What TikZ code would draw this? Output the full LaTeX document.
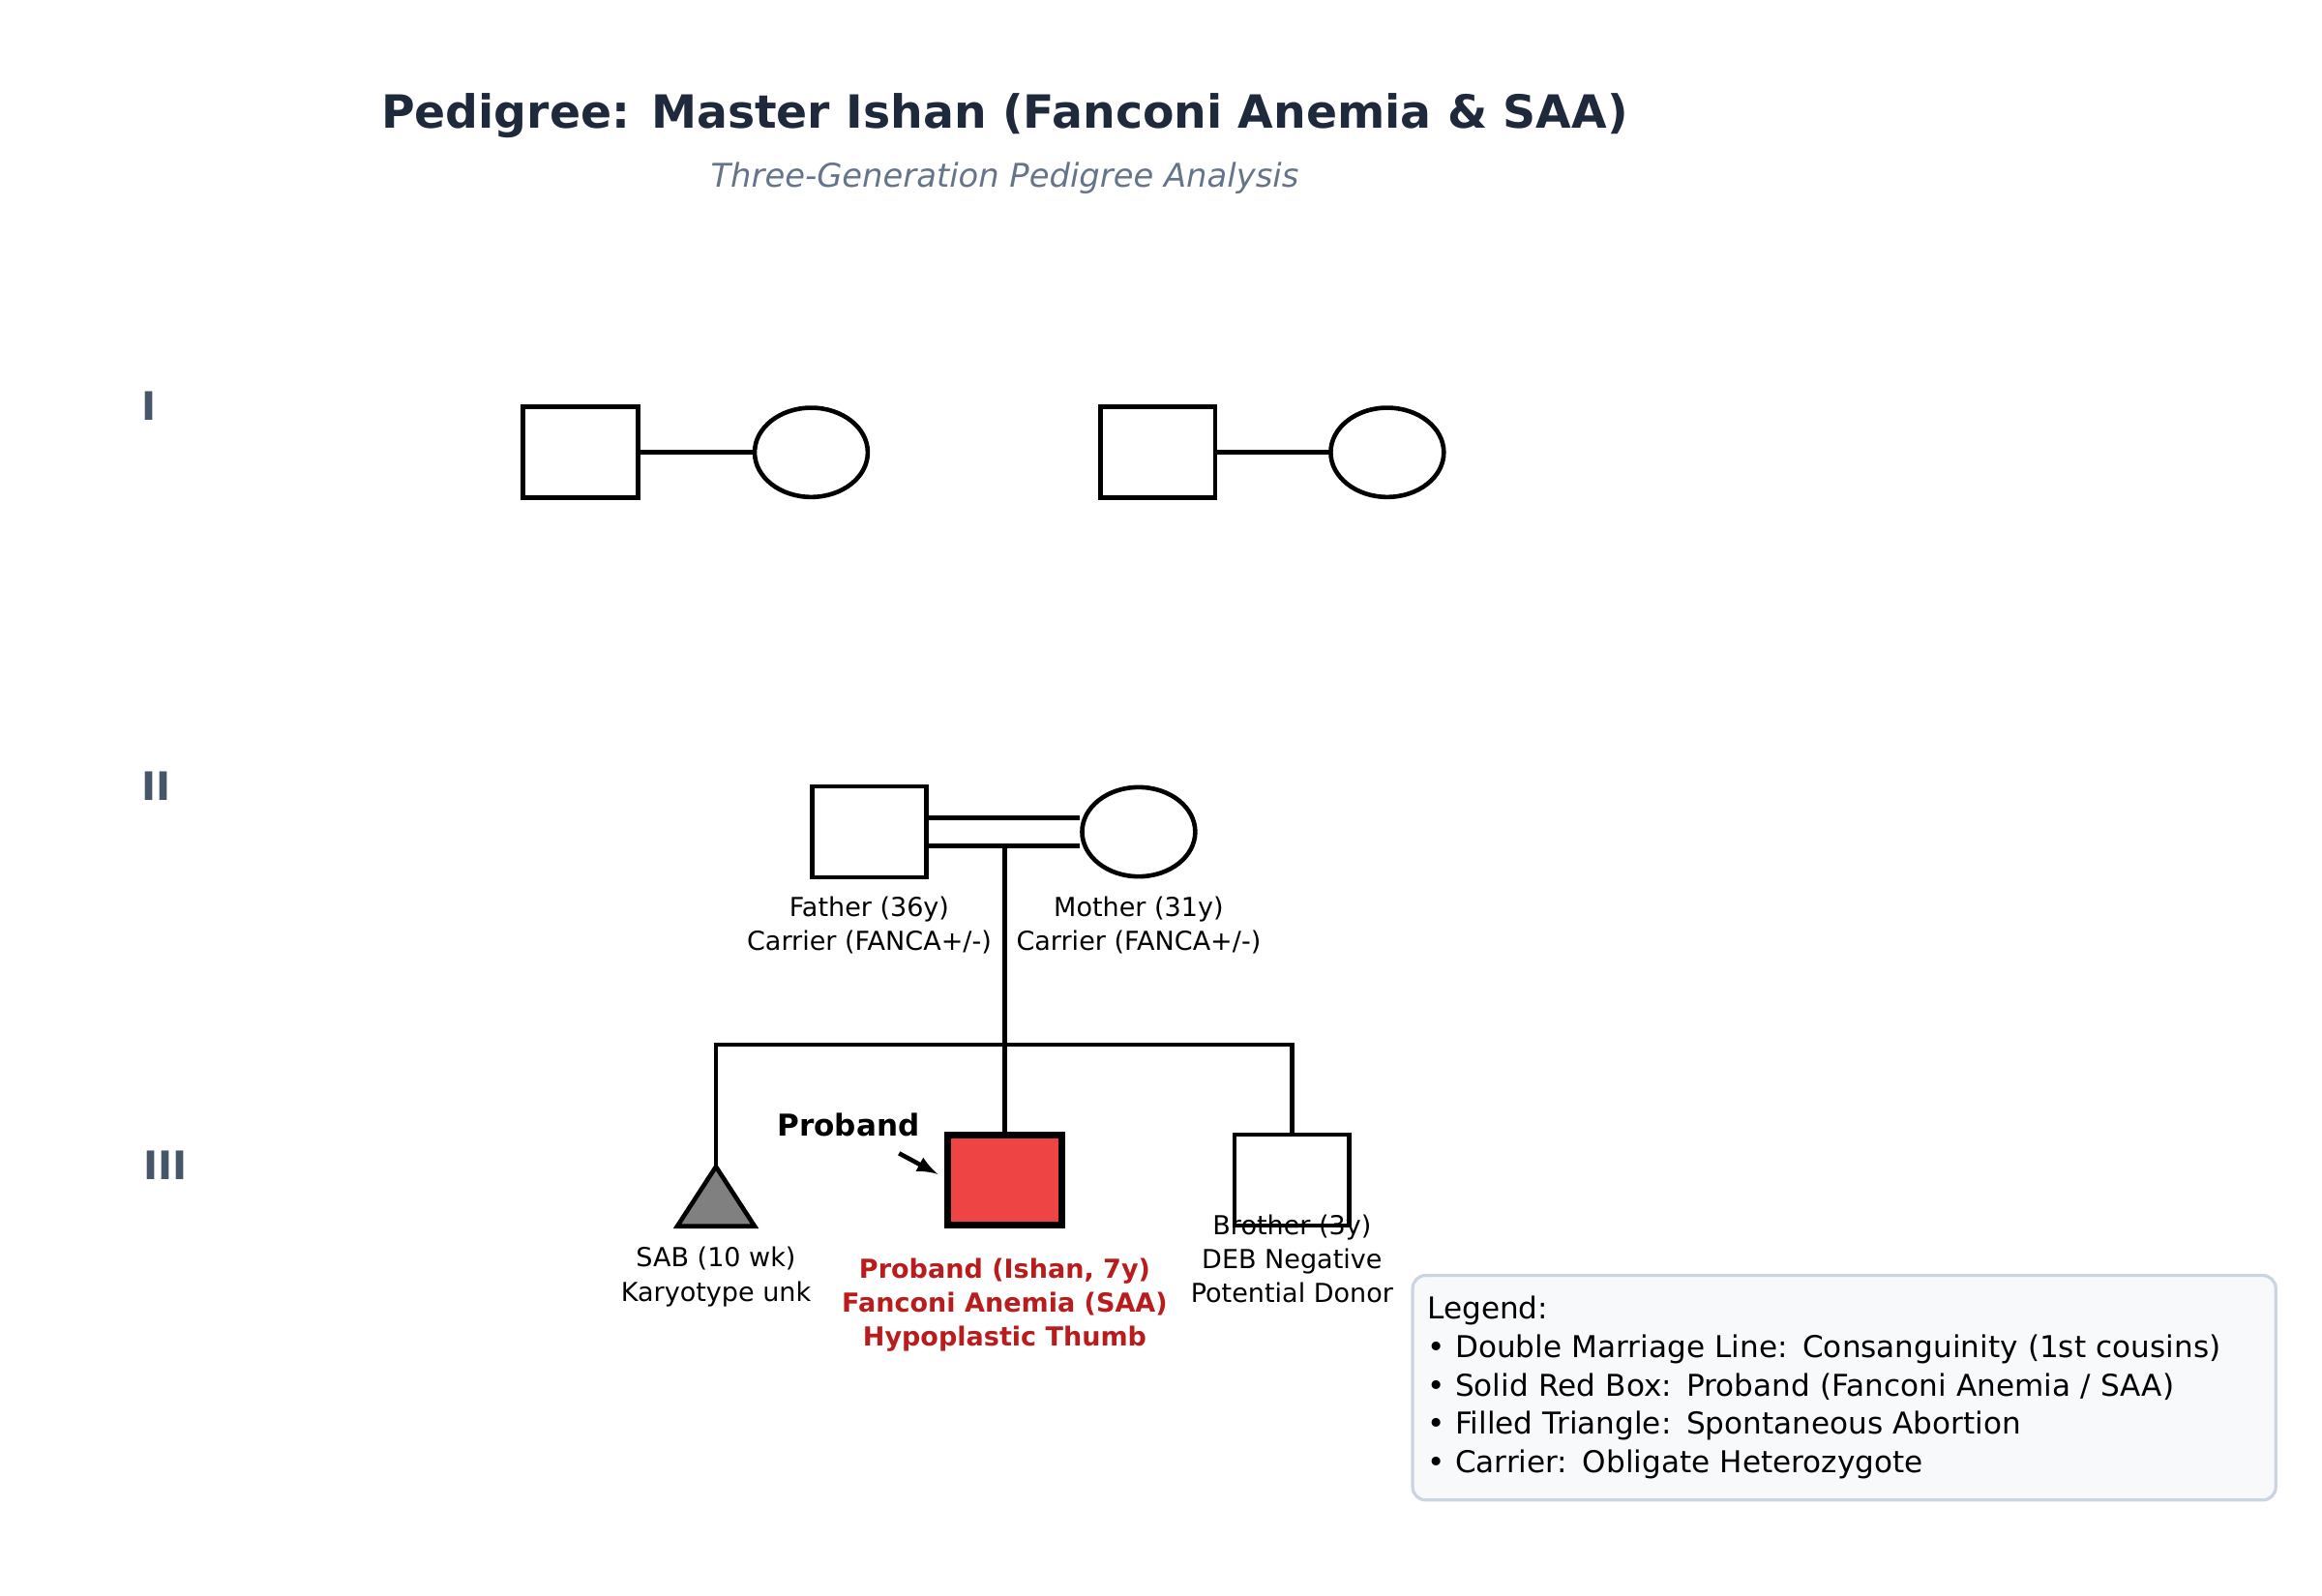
\documentclass[tikz,border=0pt]{standalone}
\usepackage{fontspec}
\setmainfont{DejaVu Sans}
\usetikzlibrary{shapes.geometric}
\definecolor{titlec}{HTML}{1E293B}
\definecolor{subc}{HTML}{64748B}
\definecolor{genc}{HTML}{475569}
\definecolor{probfill}{HTML}{EF4444}
\definecolor{probtxt}{HTML}{B91C1C}
\definecolor{legfill}{HTML}{F7F9FB}
\definecolor{legdraw}{HTML}{CBD5E1}
\tikzset{
  male/.style={draw,line width=1.7pt,minimum width=1.54cm,minimum height=1.22cm,inner sep=0pt},
  female/.style={draw,ellipse,line width=1.7pt,minimum width=1.52cm,minimum height=1.2cm,inner sep=0pt},
  rel/.style={line width=1.7pt},
  info/.style={font=\fontsize{10}{13}\selectfont,align=center},
  gen/.style={font=\fontsize{15}{18}\selectfont\bfseries,text=genc}
}
\begin{document}
\begin{tikzpicture}[x=0.02cm,y=-0.02cm]
	\useasboundingbox (0,0) rectangle (1560,1072);
	\node[font=\fontsize{17.5}{20}\selectfont\bfseries,text=titlec] (title) at (675,78) {Pedigree: Master Ishan (Fanconi Anemia \& SAA)};
	\node[font=\fontsize{12.5}{15}\selectfont\itshape,text=subc] (subtitle) at (675,120) {Three-Generation Pedigree Analysis};
	\node[gen] (g1) at (100,273) {I};
	\node[gen] (g2) at (105,528) {II};
	\node[gen] (g3) at (111,783) {III};
	% generation I
	\node[male] (gf1) at (390,304) {};
	\node[female] (gm1) at (545,304) {};
	\node[male] (gf2) at (778,304) {};
	\node[female] (gm2) at (932,304) {};
	\draw[rel] (gf1) -- (gm1);
	\draw[rel] (gf2) -- (gm2);
	% generation II
	\node[male] (father) at (584,559) {};
	\node[female] (mother) at (765,559) {};
	\draw[rel] ([yshift=0.19cm]father.east) -- ([yshift=0.19cm]mother.west);
	\draw[rel] ([yshift=-0.19cm]father.east) -- ([yshift=-0.19cm]mother.west);
	\coordinate (mid) at (675,569);
	\coordinate (sib) at (675,702);
	\coordinate (sibl) at (481,702);
	\coordinate (sibr) at (868,702);
	\node[info] (flab) at (584,622) {Father (36y)\\Carrier (FANCA+/-)};
	\node[info] (mlab) at (765,622) {Mother (31y)\\Carrier (FANCA+/-)};
	% generation III
	\draw[fill=gray,line width=1.7pt] (481,784) coordinate (sab) -- (507,824) -- (455,824) -- cycle;
	\node[male,fill=probfill,line width=2.6pt] (proband) at (675,793) {};
	\node[male] (brother) at (868,793) {};
	\draw[rel] (mid) -- (sib);
	\draw[rel] (sab) -- (sibl) -- (sibr) -- (brother.north);
	\draw[rel] (sib) -- (proband.north);
	\node[info] (sablab) at (481,858) {SAB (10 wk)\\Karyotype unk};
	\node[info] (brolab) at (868,846) {Brother (3y)\\DEB Negative\\Potential Donor};
	\node[info,font=\fontsize{10}{13}\selectfont\bfseries,text=probtxt] (problab) at (675,877) {Proband (Ishan, 7y)\\Fanconi Anemia (SAA)\\Hypoplastic Thumb};
	\node[font=\fontsize{11.5}{14}\selectfont\bfseries] (ptag) at (570,756) {Proband};
	\coordinate (ptip) at (630,789);
	\draw[line width=1.7pt,-latex] (604,775) -- (ptip);
	% legend
	\node[draw=legdraw,fill=legfill,line width=1.2pt,rounded corners=5pt,anchor=north west,align=left,
	  font=\fontsize{11.5}{14.7}\selectfont,minimum width=11.6cm,minimum height=3.02cm,text width=11.2cm] (legend) at (948,856)
	  {Legend:\\• Double Marriage Line: Consanguinity (1st cousins)\\• Solid Red Box: Proband (Fanconi Anemia / SAA)\\• Filled Triangle: Spontaneous Abortion\\• Carrier: Obligate Heterozygote};
\end{tikzpicture}
\end{document}
